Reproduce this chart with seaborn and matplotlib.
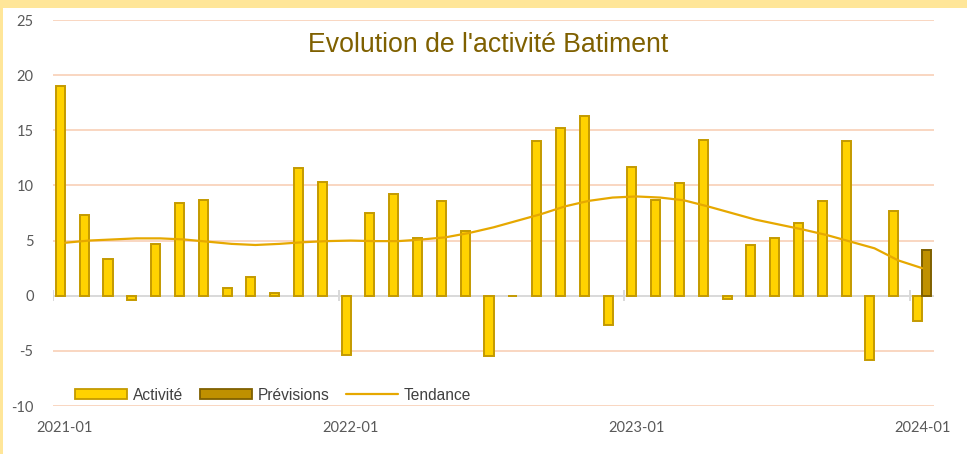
import numpy as np
import pandas as pd
import matplotlib
matplotlib.use("Agg")
import matplotlib.pyplot as plt
from matplotlib.patches import Patch, Rectangle
from matplotlib.lines import Line2D
import seaborn as sns

# Monthly building-activity series, Jan 2021 to Jan 2024
mois = pd.date_range("2021-01-01", "2024-01-01", freq="MS").strftime("%Y-%m").tolist()

activite = [19.0, 7.3, 3.3, -0.35, 4.7, 8.4, 8.7, 0.7, 1.7, 0.25, 11.6, 10.3,
            -5.4, 7.5, 9.2, 5.2, 8.6, 5.9, -5.5, -0.05, 14.0, 15.2, 16.3, -2.7,
            11.7, 8.7, 10.2, 14.1, -0.3, 4.6, 5.2, 6.6, 8.6, 14.0, -5.8, 7.7,
            -2.3]

previsions = [np.nan] * 36 + [4.1]

tendance = [4.8, 5.0, 5.1, 5.2, 5.2, 5.1, 4.9, 4.7, 4.6, 4.7, 4.85, 4.95,
            5.0, 4.95, 4.95, 5.1, 5.3, 5.7, 6.2, 6.8, 7.4, 8.1, 8.6, 8.9,
            9.0, 8.9, 8.65, 8.1, 7.5, 6.9, 6.45, 6.0, 5.5, 4.9, 4.3, 3.2,
            2.5]

etiquettes_x = ["2021-01", "2022-01", "2023-01", "2024-01"]
graduations_y = [-10, -5, 0, 5, 10, 15, 20, 25]

series = ["Activité", "Prévisions"]
remplissage = {"Activité": "#FFD200", "Prévisions": "#BF9000"}
contour = {"Activité": "#C49A00", "Prévisions": "#7F6000"}
couleur_tendance = "#E6A800"

df = pd.DataFrame({
    "mois": mois * 2,
    "serie": ["Activité"] * len(mois) + ["Prévisions"] * len(mois),
    "valeur": activite + previsions,
})

sns.set_style("white")
plt.rcParams["font.family"] = ["Liberation Sans", "DejaVu Sans"]

fig = plt.figure(figsize=(9.67, 4.54), dpi=100, facecolor="white")
ax = fig.add_axes([53 / 967, 1 - 406 / 454, (934 - 53) / 967, (406 - 20) / 454])

# Light gold frame along the top and left edges
fig.patches.append(Rectangle((0, 1 - 8 / 454), 1, 8 / 454, transform=fig.transFigure,
                             facecolor="#FFE699", edgecolor="none", zorder=0))
fig.patches.append(Rectangle((0, 0), 3 / 967, 1, transform=fig.transFigure,
                             facecolor="#FFE699", edgecolor="none", zorder=0))

sns.barplot(data=df, x="mois", y="valeur", hue="serie", hue_order=series,
            order=mois, palette=remplissage, saturation=1, width=0.76, dodge=True,
            errorbar=None, linewidth=1.4, legend=False, ax=ax, zorder=3)

for conteneur, nom in zip(ax.containers, series):
    for barre in conteneur:
        barre.set_edgecolor(contour[nom])
        barre.set_linewidth(1.4)

sns.lineplot(x=np.arange(len(mois)), y=tendance, color=couleur_tendance,
             linewidth=1.6, ax=ax, zorder=4)

ax.set_xlim(-0.5, len(mois) - 0.5)
ax.set_ylim(-10, 25)

# Horizontal grid and zero axis
for v in graduations_y:
    if v != 0:
        ax.axhline(v, color="#F9D3BC", linewidth=1.3, zorder=1)
ax.axhline(0, color="#D9D9D9", linewidth=1.4, zorder=2)
limites_annees = [i - 0.5 for i in range(0, len(mois), 12)]
ax.vlines(limites_annees, -0.5, 0.5, color="#D9D9D9", linewidth=1.4, zorder=2)

for s in ax.spines.values():
    s.set_visible(False)

ax.set_xticks([mois.index(m) for m in etiquettes_x])
ax.set_xticklabels(etiquettes_x)
ax.set_yticks(graduations_y)
ax.set_yticklabels([str(v) for v in graduations_y])
ax.tick_params(axis="both", length=0, labelsize=10.5, labelcolor="#595959")
ax.tick_params(axis="y", pad=14)
ax.tick_params(axis="x", pad=11)
for lab in ax.get_xticklabels() + ax.get_yticklabels():
    lab.set_fontfamily(["Lato", "DejaVu Sans"])
ax.set_xlabel("")
ax.set_ylabel("")

fig.text(488 / 967, 1 - 45 / 454, "Evolution de l'activité Batiment",
         ha="center", va="center", fontsize=19.2, color="#7F6000")

poignees = [
    Patch(facecolor=remplissage["Activité"], edgecolor=contour["Activité"], linewidth=1.3),
    Patch(facecolor=remplissage["Prévisions"], edgecolor=contour["Prévisions"], linewidth=1.3),
    Line2D([], [], color=couleur_tendance, linewidth=1.6),
]
leg = fig.legend(poignees, ["Activité", "Prévisions", "Tendance"], ncol=3,
                 loc="center left", bbox_to_anchor=(75 / 967, 1 - 395 / 454),
                 frameon=False, fontsize=11.2, handlelength=3.35, handleheight=0.55,
                 handletextpad=0.35, columnspacing=1.1, borderpad=0, borderaxespad=0)
for t in leg.get_texts():
    t.set_color("#404040")

fig.savefig("out.png", dpi=100, facecolor=fig.get_facecolor())
